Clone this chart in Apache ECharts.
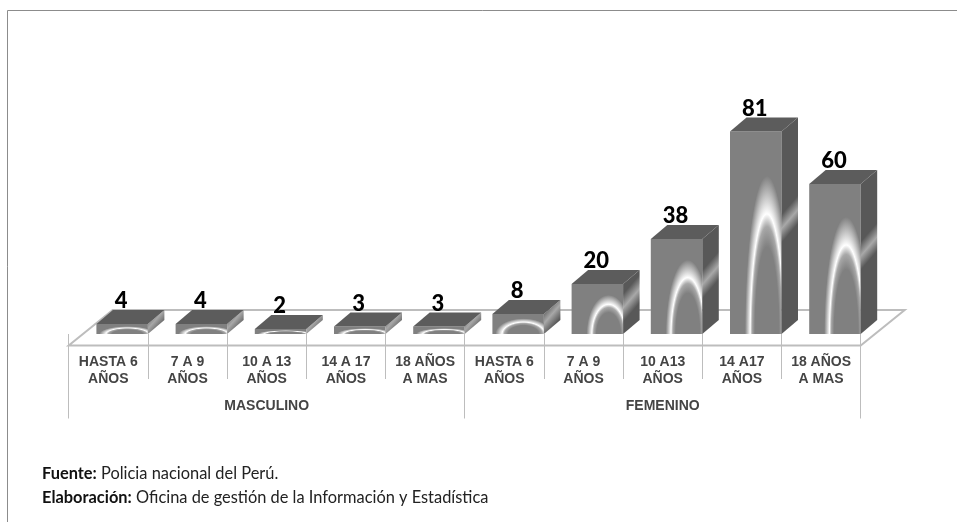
<!DOCTYPE html>
<html>
<head>
<meta charset="utf-8">
<title>Denuncias por edad y sexo</title>
<script src="https://cdn.jsdelivr.net/npm/echarts@6/dist/echarts.min.js"></script>
<style>
html, body { margin: 0; padding: 0; background: #fff; }
#chart { width: 957px; height: 522px; }
</style>
</head>
<body>
<div id="chart"></div>
<script>
var ageLabels = [
    'HASTA 6\nAÑOS', '7 A 9\nAÑOS', '10 A 13\nAÑOS', '14 A 17\nAÑOS', '18 AÑOS\nA MAS',
    'HASTA 6\nAÑOS', '7 A 9\nAÑOS', '10 A13\nAÑOS', '14 A17\nAÑOS', '18 AÑOS\nA MAS'
];
var sexLabels = ['MASCULINO', 'FEMENINO'];
var cases = [4, 4, 2, 3, 3, 8, 20, 38, 81, 60];

// plot box, the floor is drawn around it
var plotLeft = 68.7, plotRight = 860.7, plotBase = 334;
var floorFront = 345.5, floorBack = 310, floorSkew = 44;
var barWidth = 51.5, depthX = 16.5, depthY = 14;
var lineColor = '#bdbdbd';

function renderBar(params, api) {
    var val = api.value(1);
    var base = api.coord([api.value(0), 0]);
    var top = api.coord([api.value(0), val]);
    var band = api.size([1, 0])[0];
    var right = base[0] + band / 2;
    var left = right - barWidth;
    var h = base[1] - top[1];

    // glow on the front face, a stretched ring cut off by the bar
    var rx = h < 30 ? 28 : 22;
    var ringX = h < 30 ? left + 31 : left + 37;
    var ring = new echarts.graphic.RadialGradient(0.5, 0.5, 0.5, [
        { offset: 0, color: '#808080' },
        { offset: 0.55, color: '#808080' },
        { offset: 0.68, color: '#a8a8a8' },
        { offset: 0.76, color: '#ffffff' },
        { offset: 0.84, color: '#d4d4d4' },
        { offset: 1, color: '#808080' }
    ]);

    // light band across the side face
    var bandY = base[1] - h * 0.52;
    var side = new echarts.graphic.LinearGradient(right - 7, bandY - 6, right + 7, bandY + 6, [
        { offset: 0, color: '#585858' },
        { offset: 0.5, color: '#a8a8a8' },
        { offset: 1, color: '#585858' }
    ], true);

    return {
        type: 'group',
        children: [
            {
                type: 'rect',
                shape: { x: left, y: top[1], width: barWidth, height: h },
                style: { fill: '#808080' }
            },
            {
                type: 'group',
                clipPath: { type: 'rect', shape: { x: left, y: top[1], width: barWidth, height: h } },
                children: [{
                    type: 'circle',
                    shape: { cx: 0, cy: 0, r: 100 },
                    x: ringX,
                    y: base[1],
                    scaleX: rx / 100,
                    scaleY: h * 0.78 / 100,
                    style: { fill: ring }
                }]
            },
            {
                type: 'polygon',
                shape: { points: [[right, top[1]], [right + depthX, top[1] - depthY], [right + depthX, base[1] - depthY], [right, base[1]]] },
                style: { fill: side }
            },
            {
                type: 'polygon',
                shape: { points: [[left, top[1]], [left + depthX, top[1] - depthY], [right + depthX, top[1] - depthY], [right, top[1]]] },
                style: { fill: '#5c5c5c' }
            },
            {
                type: 'text',
                x: left + barWidth / 2 - 1,
                y: top[1] - depthY - 9,
                style: {
                    text: String(val),
                    fill: '#000',
                    font: '900 22px Lato',
                    align: 'center',
                    verticalAlign: 'middle'
                }
            }
        ]
    };
}

var chart = echarts.init(document.getElementById('chart'), null, { renderer: 'canvas' });
chart.setOption({
    animation: false,
    backgroundColor: '#fff',
    title: {
        left: 42,
        top: 462,
        padding: 0,
        text: '{b|Fuente:}{n| Policia nacional del Perú.}\n{b|Elaboración:}{n| Oficina de gestión de la Información y Estadística}',
        textStyle: {
            rich: {
                b: { fontFamily: 'Lato', fontWeight: 700, fontSize: 16.4, color: '#111', lineHeight: 24 },
                n: { fontFamily: 'Lato', fontWeight: 400, fontSize: 16.4, color: '#222', lineHeight: 24 }
            }
        }
    },
    grid: { left: plotLeft, right: 957 - plotRight, top: plotBase - 250, bottom: 522 - plotBase },
    xAxis: [
        {
            type: 'category',
            data: ageLabels,
            offset: floorFront - plotBase,
            axisLine: { show: false },
            axisTick: { show: true, length: 45, lineStyle: { color: lineColor, width: 1 } },
            axisLabel: {
                interval: 0,
                margin: 8,
                fontFamily: 'Liberation Sans',
                fontWeight: 700,
                fontSize: 14,
                lineHeight: 17,
                color: '#444'
            }
        },
        {
            type: 'category',
            position: 'bottom',
            data: sexLabels,
            offset: floorFront - plotBase,
            axisLine: { show: false },
            axisTick: { show: true, length: 73, lineStyle: { color: lineColor, width: 1 } },
            axisLabel: {
                interval: 0,
                margin: 54,
                fontFamily: 'Liberation Sans',
                fontWeight: 700,
                fontSize: 14,
                color: '#444'
            }
        }
    ],
    yAxis: { type: 'value', min: 0, max: 100, show: false },
    graphic: [
        // outer frame of the picture
        { type: 'polyline', silent: true, z: -2, shape: { points: [[7.5, 522], [7.5, 10.5], [957, 10.5]] }, style: { fill: null, stroke: '#8c8c8c', lineWidth: 1 } },
        // floor under the bars
        {
            type: 'polygon',
            silent: true,
            z: -1,
            shape: { points: [[plotLeft, floorFront], [plotRight, floorFront], [plotRight + floorSkew, floorBack], [plotLeft + floorSkew, floorBack]] },
            style: { fill: '#fff', stroke: lineColor, lineWidth: 2 }
        }
    ],
    series: [{
        type: 'custom',
        renderItem: renderBar,
        encode: { x: 0, y: 1 },
        data: cases.map(function (v, i) { return [i, v]; })
    }]
});
</script>
</body>
</html>
